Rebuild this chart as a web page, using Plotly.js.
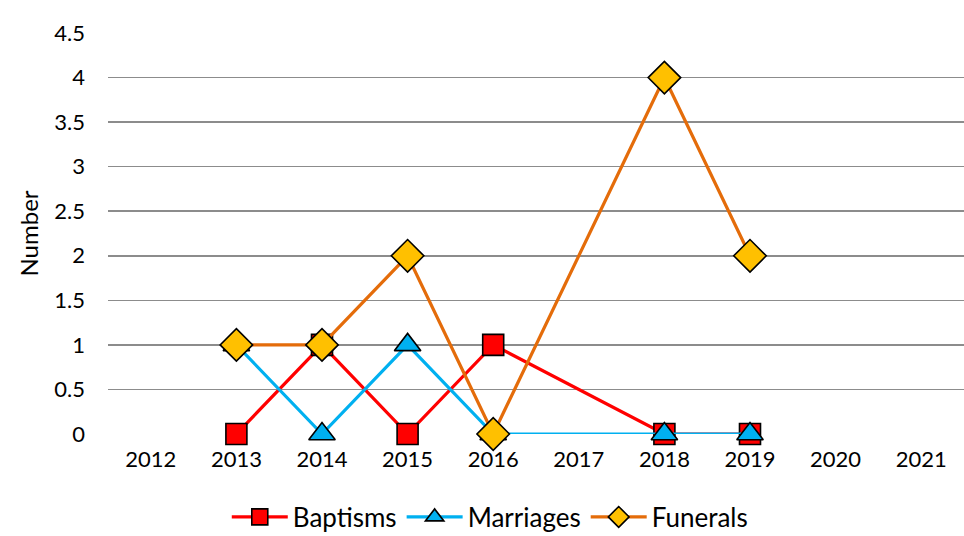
<!DOCTYPE html>
<html>
<head>
<meta charset="utf-8">
<script src="https://cdn.plot.ly/plotly-3.0.1.min.js"></script>
<style>html,body{margin:0;padding:0;background:#fff;}#chart{width:964px;height:536px;}</style>
</head>
<body>
<div id="chart"></div>
<script>
const years = ['2012','2013','2014','2015','2016','2017','2018','2019','2020','2021'];
const baptisms  = [null, 0, 1, 0, 1, null, 0, 0, null, null];
const marriages = [null, 1, 0, 1, 0, null, 0, 0, null, null];
const funerals  = [null, 1, 1, 2, 0, null, 4, 2, null, null];
const yTicks = [0, 0.5, 1, 1.5, 2, 2.5, 3, 3.5, 4, 4.5];
const yTickText = ['0', '0.5', '1', '1.5', '2', '2.5', '3', '3.5', '4', '4.5'];

const FONT = 'Lato, "Open Sans", sans-serif';

const traces = [
  {name: 'Baptisms', x: years, y: baptisms, type: 'scatter', mode: 'lines+markers', connectgaps: true,
   line: {color: '#FF0000', width: 3.2},
   marker: {symbol: 'square', size: 21, color: '#FF0000', line: {color: '#000', width: 1.6}}},
  {name: 'Marriages', x: years, y: marriages, type: 'scatter', mode: 'lines+markers', connectgaps: true,
   line: {color: '#00B0F0', width: 3.2},
   marker: {symbol: 'triangle-up', size: 23, color: '#00B0F0', line: {color: '#000', width: 1.6}}},
  {name: 'Funerals', x: years, y: funerals, type: 'scatter', mode: 'lines+markers', connectgaps: true,
   line: {color: '#E46C0A', width: 3.2},
   marker: {symbol: 'diamond', size: 25, color: '#FFC000', line: {color: '#000', width: 1.6}}}
];

const layout = {
  width: 964, height: 536,
  margin: {l: 108, r: 0, t: 33, b: 102, autoexpand: false},
  paper_bgcolor: '#fff', plot_bgcolor: '#fff',
  font: {family: FONT, size: 22, color: '#000'},
  showlegend: true,
  legend: {orientation: 'h', x: 0.446, xanchor: 'center', y: -0.207, yanchor: 'middle',
           font: {family: FONT, size: 26, color: '#000'}, itemwidth: 56, tracegroupgap: 0},
  xaxis: {type: 'category', categoryorder: 'array', categoryarray: years,
          range: [-0.5, 9.5], showgrid: false, zeroline: false, showline: false,
          ticks: '', ticklabelstandoff: 10, tickfont: {family: FONT, size: 22, color: '#000'}},
  yaxis: {range: [0, 4.5], tickmode: 'array', tickvals: yTicks, ticktext: yTickText,
          showgrid: true, gridcolor: '#8c8c8c', gridwidth: 1.5, zeroline: false, showline: false,
          ticks: '', ticklabelstandoff: 22, tickfont: {family: FONT, size: 22, color: '#000'},
          title: {text: 'Number', font: {family: FONT, size: 24, color: '#000'}, standoff: 8}}
};

traces.forEach(t => t.cliponaxis = false);
Plotly.newPlot('chart', traces, layout, {displayModeBar: false, staticPlot: true});
</script>
</body>
</html>
